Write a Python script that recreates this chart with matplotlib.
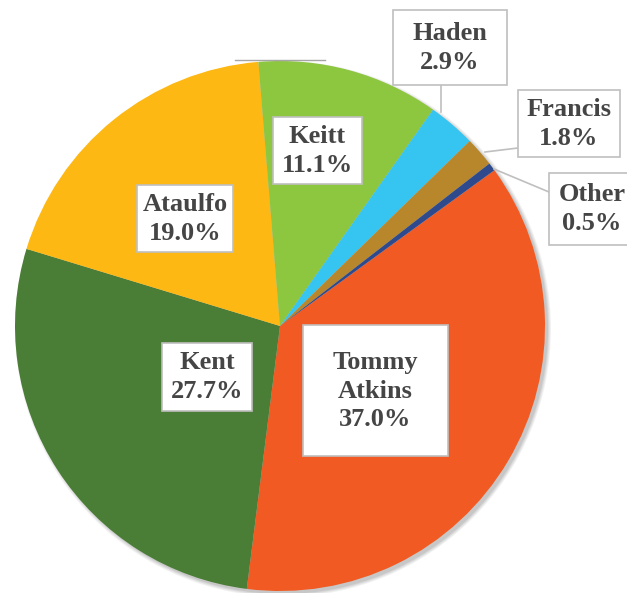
import matplotlib
matplotlib.use("Agg")
import matplotlib.pyplot as plt
from matplotlib.patches import Rectangle, Circle

# ---- data ----
varieties = ["Tommy Atkins", "Kent", "Ataulfo", "Keitt", "Haden", "Francis", "Other"]
shares = [37.0, 27.7, 19.0, 11.1, 2.9, 1.8, 0.5]
label_names = ["Tommy\nAtkins", "Kent", "Ataulfo", "Keitt", "Haden", "Francis", "Other"]
colors = ["#F15A22", "#4A7D35", "#FDB813", "#8DC63F", "#36C5F0", "#B8862B", "#2E4A8C"]

# ---- layout (pixel coordinates, y measured from top) ----
W, H = 627, 593
center_px = (280, 326)
radius_px = 265
# label boxes: x0, x1, y0, y1
boxes = [
    (303, 448, 325, 456),
    (162, 252, 343, 411),
    (137, 233, 185, 252),
    (273, 362, 117, 184),
    (393, 507, 10, 85),
    (518, 620, 90, 157),
    (549, 640, 173, 245),
]
text_centers = [(375, 391), (207, 377), (185, 219), (317, 151), (450, 48), (569, 124), (592, 209)]
leaders = {4: [(441, 85), (441, 112)], 5: [(518, 148), (485, 152)], 6: [(549, 192), (494, 169)]}

fig = plt.figure(figsize=(W / 100, H / 100), dpi=100)
ax = fig.add_axes([0, 0, 1, 1])
ax.set_xlim(0, W)
ax.set_ylim(0, H)
ax.set_aspect("equal")
ax.axis("off")

cx, cy = center_px[0], H - center_px[1]

# soft shadow
for i, a in enumerate([0.05, 0.05, 0.06, 0.07]):
    ax.add_patch(Circle((cx + 3, cy - 3), radius_px + 3 - i, color="black", alpha=a, lw=0, zorder=0))

ax.pie(shares, colors=colors, startangle=36, counterclock=False,
       center=(cx, cy), radius=radius_px, frame=True,
       wedgeprops=dict(linewidth=0, zorder=1))
ax.set_xlim(0, W)
ax.set_ylim(0, H)
ax.axis("off")

# stray top line
ax.plot([235, 325], [H - 60, H - 60], color="#A6A6A6", lw=1.0, zorder=2)

for i, (name, val) in enumerate(zip(label_names, shares)):
    x0, x1, y0, y1 = boxes[i]
    ax.add_patch(Rectangle((x0, H - y1), x1 - x0, y1 - y0, facecolor="white",
                           edgecolor="#BFBFBF", lw=1.2, zorder=3))
    tx, ty = text_centers[i]
    ax.text(tx, H - ty, f"{name}\n{val:.1f}%", ha="center", va="center",
            fontsize=19, fontweight="bold", family="Liberation Serif",
            color="#454545", linespacing=1.33, zorder=4)
    if i in leaders:
        pts = leaders[i]
        ax.plot([p[0] for p in pts], [H - p[1] for p in pts], color="#BFBFBF", lw=1.2, zorder=2)

fig.savefig("out.png", dpi=100)
